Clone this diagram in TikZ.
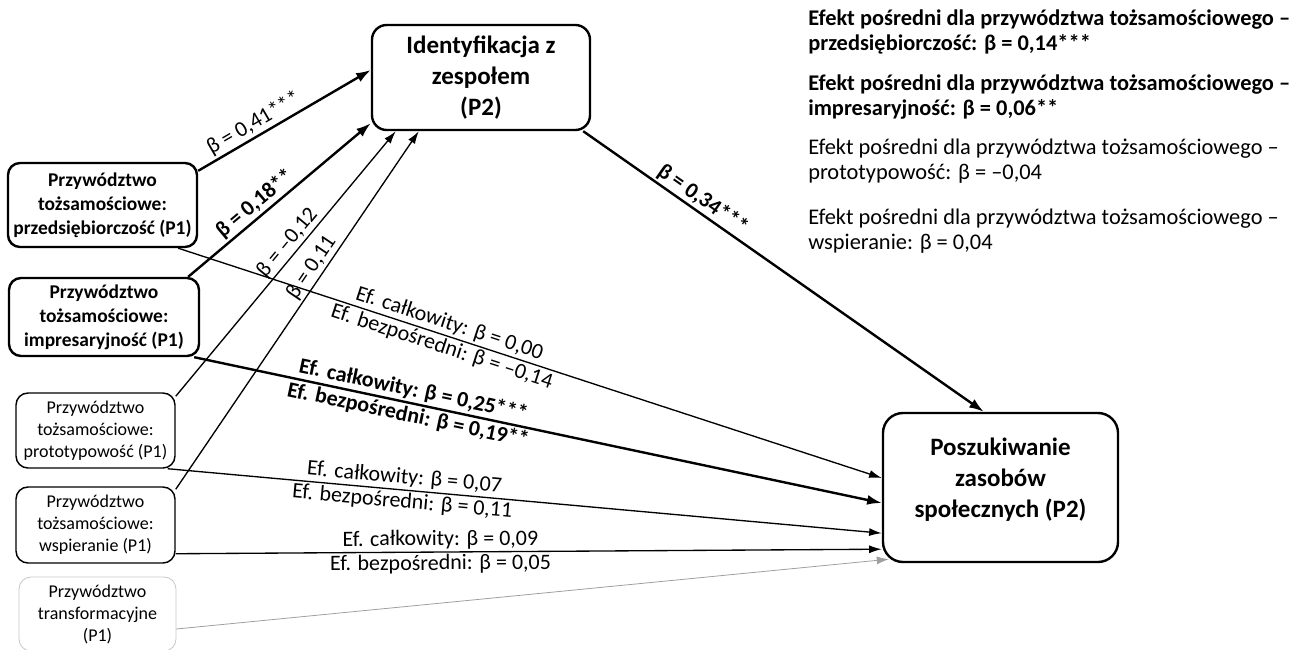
\documentclass[tikz,border=0pt]{standalone}
\usepackage{fontspec}
\setmainfont{Carlito}
\usetikzlibrary{arrows.meta,positioning,calc}

\begin{document}
\begin{tikzpicture}[x=0.75pt, y=-0.75pt,
    mainbox/.style={draw, line width=1.8pt, align=center, inner sep=0pt, font=\bfseries\fontsize{18.75}{23.25}\selectfont},
    boldbox/.style={draw, line width=1.8pt, rounded corners=9pt, align=center, inner sep=0pt, font=\bfseries\fontsize{14.6}{18}\selectfont},
    thinbox/.style={draw, line width=1.1pt, rounded corners=9pt, align=center, inner sep=0pt, font=\fontsize{13.5}{16.5}\selectfont},
    strong/.style={-{Latex[length=11pt,width=7.5pt]}, line width=1.8pt},
    weak/.style={-{Latex[length=9.5pt,width=6pt]}, line width=1pt},
    lab/.style={sloped, inner sep=1.5pt, font=\fontsize{16.5}{19}\selectfont},
    note/.style={anchor=west, align=left, inner sep=0pt, font=\fontsize{16.8}{19}\selectfont}]
    \useasboundingbox (0,0) rectangle (1311,650);
    % boxes
    \node[mainbox, rounded corners=11pt, minimum width=163.5pt, minimum height=78.75pt] (ident) at (481,77.5) {Identyfikacja z\\zespołem\\(P2)};
    \node[mainbox, rounded corners=15pt, minimum width=176.25pt, minimum height=111.75pt] (zasoby) at (1000.5,487.5) {Poszukiwanie\\zasobów\\społecznych (P2)\\[-8pt]\mbox{}};
    \node[boldbox, minimum width=141.75pt, minimum height=63pt] (przeds) at (102.5,205) {Przywództwo\\tożsamościowe:\\przedsiębiorczość (P1)};
    \node[boldbox, minimum width=142.5pt, minimum height=58.5pt] (impres) at (104,317) {Przywództwo\\tożsamościowe:\\impresaryjność (P1)};
    \node[thinbox, minimum width=119.25pt, minimum height=56.25pt] (proto) at (95.5,430.5) {Przywództwo\\tożsamościowe:\\prototypowość (P1)};
    \node[thinbox, minimum width=119.25pt, minimum height=57pt] (wspier) at (95.5,525) {Przywództwo\\tożsamościowe:\\wspieranie (P1)};
    \node[thinbox, draw=gray!45, line width=0.6pt, minimum width=117.75pt, minimum height=55.5pt] (transf) at (97.5,614) {Przywództwo\\transformacyjne\\(P1)};
    % indirect effects
    \node[note, font=\bfseries\fontsize{16.8}{19}\selectfont] (ind1) at (808,32) {Efekt pośredni dla przywództwa tożsamościowego –\\przedsiębiorczość: β = 0,14***};
    \node[note, font=\bfseries\fontsize{16.8}{19}\selectfont] (ind2) at (808,97) {Efekt pośredni dla przywództwa tożsamościowego –\\impresaryjność: β = 0,06**};
    \node[note] (ind3) at (808,161) {Efekt pośredni dla przywództwa tożsamościowego –\\prototypowość: β = –0,04};
    \node[note] (ind4) at (808,231) {Efekt pośredni dla przywództwa tożsamościowego –\\wspieranie: β = 0,04};
    % paths to identification
    \draw[strong] ($(przeds.north east)+(0,9)$) -- ($(ident.west)+(0,-7.5)$) node[lab, pos=0.36, above] {β = 0,41***};
    \draw[strong] ($(impres.north east)+(-12,0)$) -- ($(ident.south west)+(0,-8)$) node[lab, pos=0.41, above, font=\bfseries\fontsize{16.5}{19}\selectfont] {β = 0,18**};
    \draw[weak] ($(proto.north east)+(0,4)$) -- ($(ident.south west)+(25,0)$) node[lab, pos=0.55, above] {β = –0,12};
    \draw[weak] ($(wspier.north east)+(0,3)$) -- ($(ident.south west)+(48,0)$) node[lab, pos=0.6, above] {β = 0,11};
    \draw[strong] ($(ident.south east)+(-8,0)$) -- ($(zasoby.north west)+(102,0)$) node[lab, pos=0.28, above, font=\bfseries\fontsize{16.5}{19}\selectfont] {β = 0,34***};
    % paths to social resources
    \draw[weak] ($(przeds.south east)+(-20,0)$) -- ($(zasoby.west)+(0,-9.5)$)
      node[lab, pos=0.38, above] {Ef. całkowity: β = 0,00}
      node[lab, pos=0.38, below] {Ef. bezpośredni: β = –0,14};
    \draw[strong] ($(impres.south east)+(-6,0)$) -- ($(zasoby.west)+(0,15.5)$)
      node[lab, pos=0.315, above, font=\bfseries\fontsize{16.5}{19}\selectfont] {Ef. całkowity: β = 0,25***}
      node[lab, pos=0.315, below, font=\bfseries\fontsize{16.5}{19}\selectfont] {Ef. bezpośredni: β = 0,19**};
    \draw[weak] ($(proto.south east)+(-8,0)$) -- ($(zasoby.south west)+(0,-30)$)
      node[lab, pos=0.33, above] {Ef. całkowity: β = 0,07}
      node[lab, pos=0.33, below] {Ef. bezpośredni: β = 0,11};
    \draw[weak] ($(wspier.south east)+(0,-10)$) -- ($(zasoby.south west)+(0,-14)$)
      node[lab, pos=0.375, above] {Ef. całkowity: β = 0,09}
      node[lab, pos=0.375, below] {Ef. bezpośredni: β = 0,05};
    \draw[-{Latex[length=9pt,width=6pt]}, gray!75, line width=0.6pt] ($(transf.east)+(0,15)$) -- ($(zasoby.south west)+(7,-4)$);
\end{tikzpicture}
\end{document}
